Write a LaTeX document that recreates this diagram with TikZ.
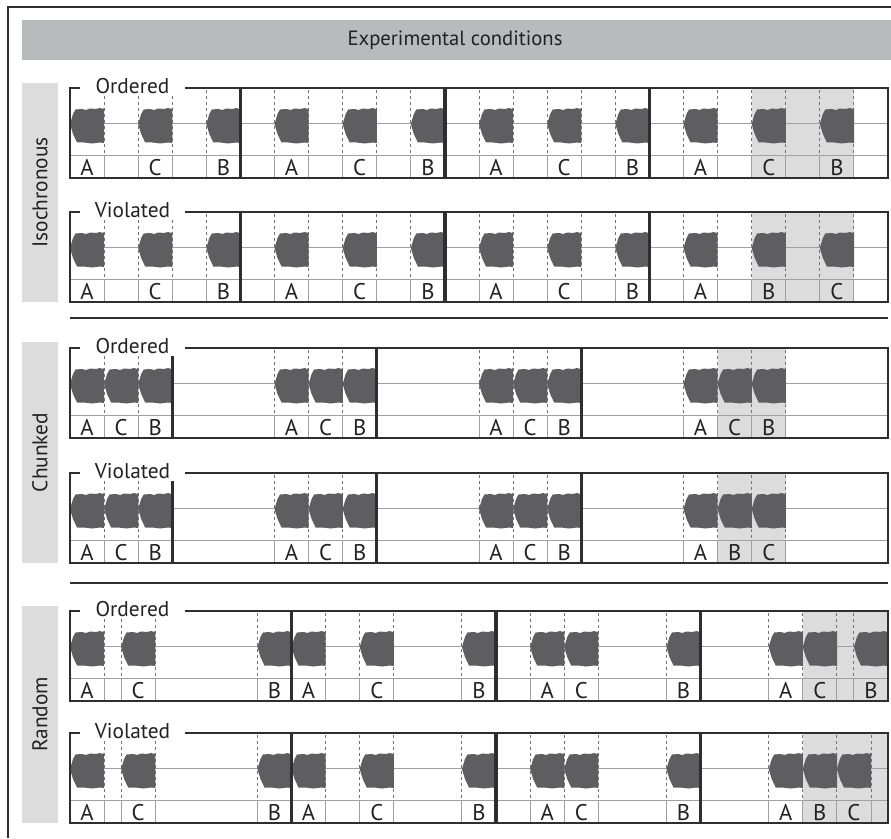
\documentclass[tikz,border=0pt]{standalone}
\usepackage{fontspec}
\setmainfont{PT Sans}
\usetikzlibrary{positioning}
\definecolor{BarGrey}{HTML}{B9BABC}
\definecolor{SideGrey}{HTML}{DCDCDD}
\definecolor{ShadeGrey}{HTML}{DCDCDD}
\definecolor{WaveGrey}{HTML}{5E5E60}
\definecolor{GuideGrey}{HTML}{A0A0A0}
\definecolor{FrameDark}{HTML}{2E2E2E}
\definecolor{InkDark}{HTML}{222222}

% one sound token, left edge at unit #1
\newcommand{\sound}[1]{%
  \fill[WaveGrey, shift={(#1,35)}, x=0.75pt]
    (0,1) -- (3,-9) -- (5.5,-13.5) -- (12,-14) -- (16,-13) -- (20,-14.5) -- (26,-14) -- (30,-15) -- (33,-14) -- (34.2,-15.5)
    -- (34.2,20) -- (30,19.5) -- (22,20.5) -- (14,19.5) -- (7,19.5) -- (3,11) -- cycle;}

% one trial row: name, top, tag, shaded spans, tokens, cue lines, block edges
\newcommand{\trialrow}[7]{%
  \begin{scope}[shift={(70,#2)}, x=25.5625pt]
    \foreach \a/\b in {#4} \fill[ShadeGrey] (\a,0) rectangle (\b,90);
    \draw[guide] (0,35) -- (24,35);
    \draw[guide] (0,67) -- (24,67);
    \foreach \c in {#6} {
      \draw[cue] (\c,2) -- (\c,67);
      \draw[guide] (\c,67) -- (\c,90);
    }
    \foreach \s/\l [count=\i] in {#5} {
      \sound{\s}
      \node[letter] (#1-\i) at ({\s+0.5},79.5) {\l};
    }
    \foreach \t in {#7} \draw[blockedge] (\t,0) -- (\t,90);
    \draw[frame] (0,0) rectangle (24,90);
    \node[tag] (#1-tag) at (1.833,5.5) {#3};
  \end{scope}}

\begin{document}
\begin{tikzpicture}[
    x=0.75pt, y=-0.75pt, font=\fontsize{16}{19}\selectfont,
    frame/.style={FrameDark, line width=1.1pt},
    blockedge/.style={FrameDark, line width=2.4pt},
    guide/.style={GuideGrey, line width=0.7pt},
    cue/.style={black!55, line width=0.7pt, dash pattern=on 2pt off 2.5pt},
    letter/.style={inner sep=0pt, text=InkDark, font=\fontsize{17}{20}\selectfont},
    tag/.style={anchor=base, fill=white, minimum width=78.75pt, inner sep=2pt, text=InkDark},
    sidebar/.style={fill=SideGrey, draw=none},
    side/.style={rotate=90, text=InkDark},
  ]
    \useasboundingbox (0,0) rectangle (891,838);
    % --- outer border (cut at right and bottom) ---
    \draw[frame] (8,838) -- (8,7) -- (891,7);
    % --- header bar ---
    \fill[BarGrey] (22,20) rectangle (891,60);
    \node[text=InkDark, font=\fontsize{15.5}{18}\selectfont] (title) at (455,40) {Experimental conditions};
    % --- side bars ---
    \foreach \y/\h/\name/\txt in {83/302/iso/Isochronous, 342/563/chunk/Chunked, 606/823/rand/Random}{
      \fill[sidebar] (22,\y) rectangle (58,\h);
      \node[side] (\name-side) at (40,{(\y+\h)/2}) {\txt};
    }
    % --- separators ---
    \draw[frame] (70,318) -- (888,318);
    \draw[frame] (70,583) -- (888,583);
    % --- isochronous ---
    \trialrow{isoord}{88}{Ordered}{20/23}
      {0/A,2/C,4/B,6/A,8/C,10/B,12/A,14/C,16/B,18/A,20/C,22/B}
      {1,2,3,4,6,7,8,9,10,12,13,14,15,16,18,19,20,21,22,23}{5,11,17}
    \trialrow{isovio}{212}{Violated}{20/23}
      {0/A,2/C,4/B,6/A,8/C,10/B,12/A,14/C,16/B,18/A,20/B,22/C}
      {1,2,3,4,6,7,8,9,10,12,13,14,15,16,18,19,20,21,22,23}{5,11,17}
    % --- chunked ---
    \trialrow{chunkord}{348}{Ordered}{19/21}
      {0/A,1/C,2/B,6/A,7/C,8/B,12/A,13/C,14/B,18/A,19/C,20/B}
      {1,2,6,7,8,12,13,14,18,19,20,21}{3,9,15}
    \trialrow{chunkvio}{473}{Violated}{19/21}
      {0/A,1/C,2/B,6/A,7/C,8/B,12/A,13/C,14/B,18/A,19/B,20/C}
      {1,2,6,7,8,12,13,14,18,19,20,21}{3,9,15}
    % --- random ---
    \trialrow{randord}{611}{Ordered}{21.5/24}
      {0/A,1.5/C,5.5/B,6.5/A,8.5/C,11.5/B,13.5/A,14.5/C,17.5/B,20.5/A,21.5/C,23/B}
      {1,1.5,2.5,5.5,7.5,8.5,9.5,11.5,13.5,14.5,15.5,17.5,20.5,21.5,22.5,23}{6.5,12.5,18.5}
    \trialrow{randvio}{733}{Violated}{21.5/24}
      {0/A,1.5/C,5.5/B,6.5/A,8.5/C,11.5/B,13.5/A,14.5/C,17.5/B,20.5/A,21.5/B,22.5/C}
      {1,1.5,2.5,5.5,7.5,8.5,9.5,11.5,13.5,14.5,15.5,17.5,20.5,21.5,22.5,23.5}{6.5,12.5,18.5}
\end{tikzpicture}
\end{document}
